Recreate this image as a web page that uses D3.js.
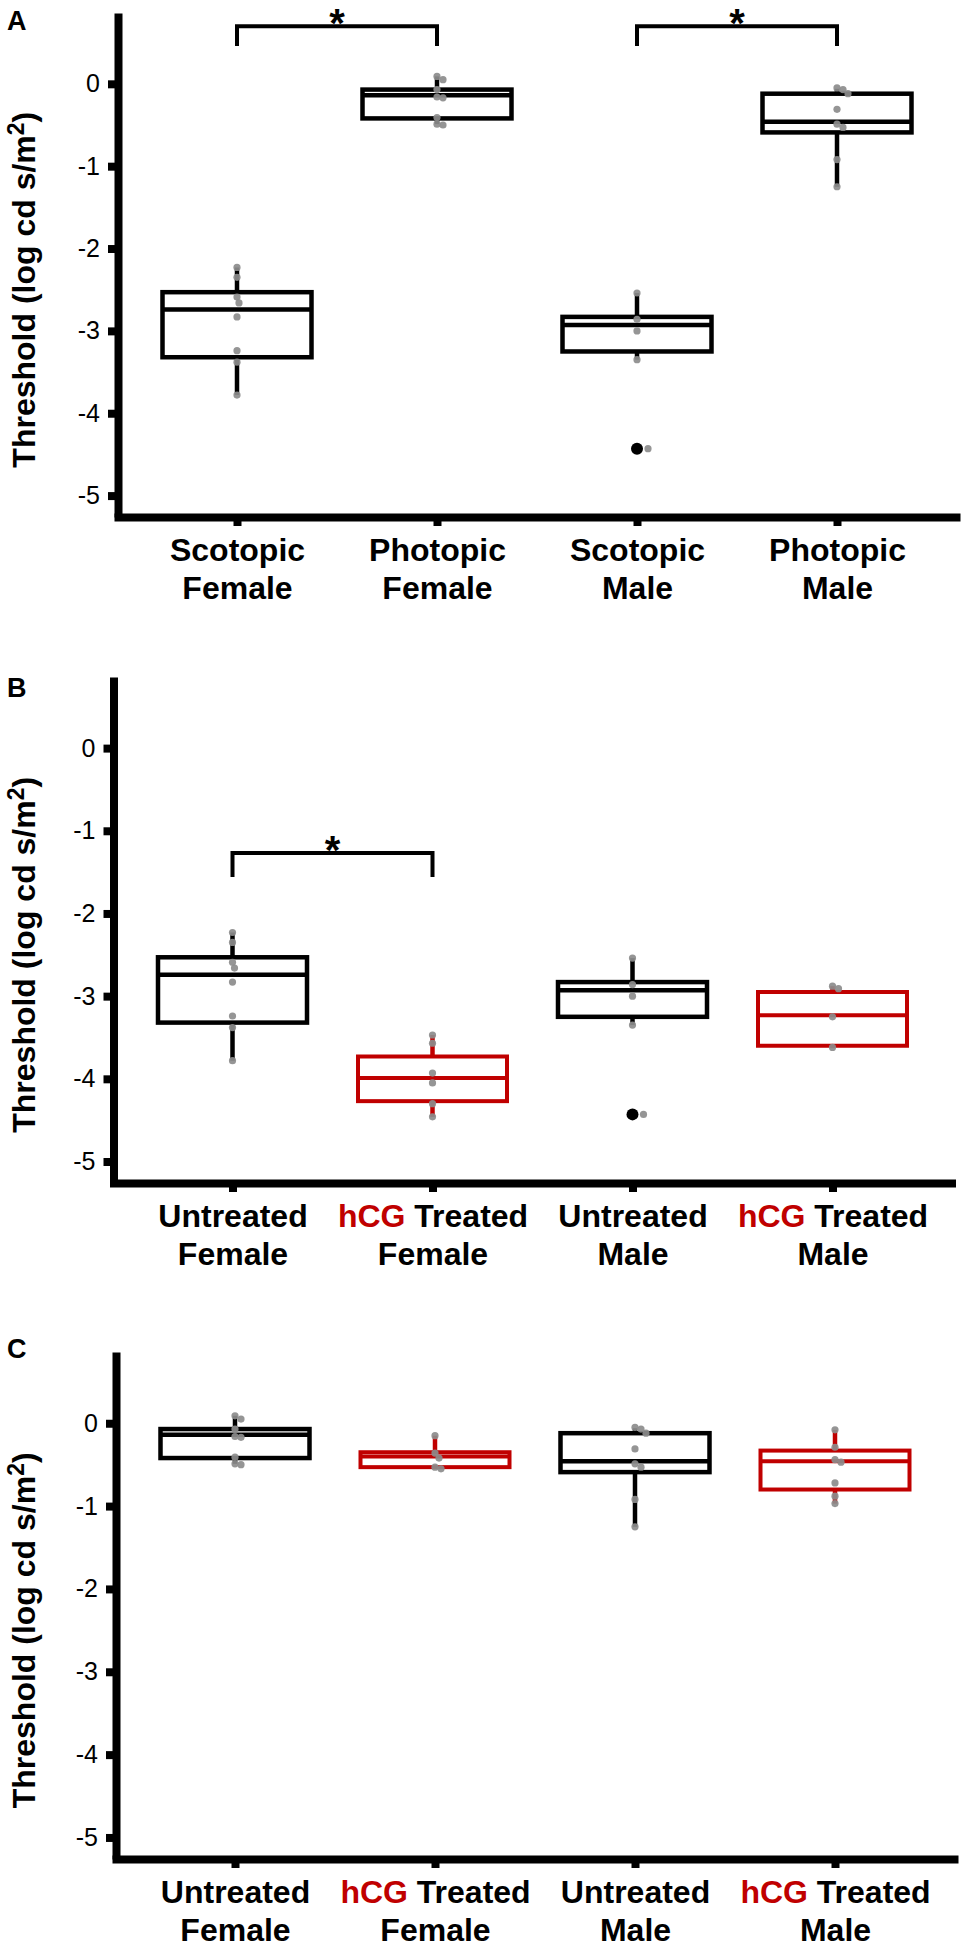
<!DOCTYPE html>
<html>
<head>
<meta charset="utf-8">
<script src="https://cdn.jsdelivr.net/npm/d3@7"></script>
<style>
body { margin: 0; background: #fff; }
svg { display: block; }
</style>
</head>
<body>
<svg id="svg"></svg>
<script>
// five-number summaries: [low whisker, q1, median, q3, high whisker]
var scotopicFemale    = [-3.78, -3.32, -2.74, -2.53, -2.23];
var scotopicFemalePts = [-2.23, -2.35, -2.59, -2.66, -2.83, -3.24, -3.38, -3.78];
var photopicFemale    = [-0.49, -0.42, -0.14, -0.07, 0.09];
var photopicFemalePts = [0.09, 0.05, -0.07, -0.16, -0.17, -0.41, -0.49, -0.50];
var scotopicMale      = [-3.35, -3.25, -2.93, -2.83, -2.54];
var scotopicMalePts   = [-2.54, -2.86, -3.00, -3.35, -4.43];
var scotopicMaleOut   = [-4.43];
var photopicMale      = [-1.25, -0.59, -0.46, -0.12, -0.06];
var photopicMalePts   = [-0.05, -0.07, -0.12, -0.31, -0.49, -0.53, -0.92, -1.25];

var hcgFemaleScot     = [-4.46, -4.27, -3.99, -3.73, -3.47];
var hcgFemaleScotPts  = [-3.47, -3.57, -3.93, -4.05, -4.30, -4.46];
var hcgMaleScot       = [-3.63, -3.60, -3.23, -2.95, -2.88];
var hcgMaleScotPts    = [-2.88, -2.91, -3.25, -3.62];

var hcgFemalePhot     = [-0.55, -0.53, -0.40, -0.35, -0.15];
var hcgFemalePhotPts  = [-0.15, -0.36, -0.42, -0.53, -0.55];
var hcgMalePhot       = [-0.97, -0.80, -0.46, -0.33, -0.08];
var hcgMalePhotPts    = [-0.08, -0.29, -0.44, -0.47, -0.72, -0.88, -0.97];

var yTicks = [0, -1, -2, -3, -4, -5];
var yDomain = [-5.26, 0.86];

var labelsA = [["Scotopic", "Female"], ["Photopic", "Female"], ["Scotopic", "Male"], ["Photopic", "Male"]];
var labelsBC = [["Untreated", "Female"], ["hCG| Treated", "Female"], ["Untreated", "Male"], ["hCG| Treated", "Male"]];
var treated = [false, true, false, true];

// brackets: [left group, right group, bar value, leg end value]
var bracketsA = [[0, 1, 0.70, 0.46], [2, 3, 0.70, 0.46]];
var bracketsB = [[0, 1, -1.27, -1.56]];

var panels = [
    { letter: "A", top: 13, bottom: 517, axisX: 118, letterY: 30, labels: labelsA, red: [false, false, false, false],
      stats: [scotopicFemale, photopicFemale, scotopicMale, photopicMale],
      pts: [scotopicFemalePts, photopicFemalePts, scotopicMalePts, photopicMalePts],
      outs: [[], [], scotopicMaleOut, []], brackets: bracketsA },
    { letter: "B", top: 677, bottom: 1183, axisX: 113.5, letterY: 697, labels: labelsBC, red: treated,
      stats: [scotopicFemale, hcgFemaleScot, scotopicMale, hcgMaleScot],
      pts: [scotopicFemalePts, hcgFemaleScotPts, scotopicMalePts, hcgMaleScotPts],
      outs: [[], [], scotopicMaleOut, []], brackets: bracketsB },
    { letter: "C", top: 1352, bottom: 1859, axisX: 116, letterY: 1358, labels: labelsBC, red: treated,
      stats: [photopicFemale, hcgFemalePhot, photopicMale, hcgMalePhot],
      pts: [photopicFemalePts, hcgFemalePhotPts, photopicMalePts, hcgMalePhotPts],
      outs: [[], [], [], []], brackets: [] }
];

//////////////////////////////////////////////////////////////////////////////

var RED = "#c00000";
var FONT = "'Liberation Sans', Arial, Helvetica, sans-serif";
var boxW = 149;
var ptR = 3.6;
var outR = 6;

var svg = d3.select("#svg").attr("width", 961).attr("height", 1943);

// push points sideways so that near-equal values do not hide each other
function dodge(vals, y, blocked)
{
    var placed = blocked.map(function(v) { return { y: y(v), dx: 0, gap: outR + ptR + 1 }; });
    return vals.map(function(v) {
        var py = y(v), dx = 0;
        var hit = function(d) {
            return placed.some(function(q) { return Math.hypot(q.dx - d, q.y - py) < q.gap; });
        };
        while (hit(dx)) dx += 1;
        placed.push({ y: py, dx: dx, gap: 6 });
        return { y: py, dx: dx };
    });
}

panels.forEach(function(p) {
    var g = svg.append("g");
    var y = d3.scaleLinear().domain(yDomain).range([p.bottom, p.top]);
    var x = d3.scalePoint().domain(d3.range(p.stats.length))
            .range([p.axisX, p.axisX + 838]).padding(0.595);

    // y axis
    var ya = g.append("g")
        .attr("transform", "translate(" + p.axisX + ",0)")
        .call(d3.axisLeft(y).tickValues(yTicks).tickSize(10).tickSizeOuter(0)
              .tickPadding(8).tickFormat(function(d) { return String(d); }));
    ya.attr("font-family", FONT).attr("font-size", 25);
    ya.select(".domain").attr("stroke", "#000").attr("stroke-width", 8);
    ya.selectAll(".tick line").attr("stroke", "#000").attr("stroke-width", 8);
    ya.selectAll(".tick text").attr("fill", "#000");

    // x axis
    var xa = g.append("g")
        .attr("transform", "translate(0," + p.bottom + ")")
        .call(d3.axisBottom(x).tickSize(9).tickSizeOuter(0).tickFormat(""));
    xa.select(".domain").attr("stroke", "#000").attr("stroke-width", 8).attr("stroke-linecap", "square");
    xa.selectAll(".tick line").attr("stroke", "#000").attr("stroke-width", 8);
    xa.selectAll(".tick text").remove();
    xa.selectAll(".tick").each(function(i) {
        var t = d3.select(this);
        var first = p.labels[i][0].split("|");
        var l1 = t.append("text").attr("y", 44);
        if (first.length > 1) {
            l1.append("tspan").attr("fill", RED).text(first[0]);
            l1.append("tspan").attr("fill", "#000").text(first[1]);
        } else {
            l1.append("tspan").attr("fill", "#000").text(first[0]);
        }
        t.append("text").attr("y", 82).attr("fill", "#000").text(p.labels[i][1]);
        t.selectAll("text").attr("text-anchor", "middle").attr("font-family", FONT)
            .attr("font-size", 32).attr("font-weight", "bold");
    });

    // y label
    var yl = g.append("text")
        .attr("transform", "translate(35," + y(-2.5) + ") rotate(-90)")
        .attr("text-anchor", "middle").attr("font-family", FONT)
        .attr("font-size", 32).attr("font-weight", "bold").attr("fill", "#000");
    yl.append("tspan").text("Threshold (log cd s/m");
    yl.append("tspan").attr("dy", -11).attr("font-size", 23).text("2");
    yl.append("tspan").attr("dy", 11).text(")");

    // panel letter
    g.append("text").attr("x", 7).attr("y", p.letterY)
        .attr("font-family", FONT).attr("font-size", 27).attr("font-weight", "bold")
        .attr("fill", "#000").text(p.letter);

    // boxes
    var groups = g.selectAll(".grp")
        .data(p.stats.map(function(s, i) { return { s: s, i: i, col: p.red[i] ? RED : "#000" }; }))
        .enter().append("g").attr("class", "grp")
        .attr("transform", function(d) { return "translate(" + x(d.i) + ",0)"; });

    groups.append("line")
        .attr("y1", function(d) { return y(d.s[0]); })
        .attr("y2", function(d) { return y(d.s[4]); })
        .attr("stroke", function(d) { return d.col; }).attr("stroke-width", 4.5);
    groups.append("rect")
        .attr("x", -boxW / 2).attr("width", boxW)
        .attr("y", function(d) { return y(d.s[3]); })
        .attr("height", function(d) { return y(d.s[1]) - y(d.s[3]); })
        .attr("fill", "#fff")
        .attr("stroke", function(d) { return d.col; })
        .attr("stroke-width", function(d) { return d.col === RED ? 4 : 4.5; });
    groups.append("line")
        .attr("x1", -boxW / 2).attr("x2", boxW / 2)
        .attr("y1", function(d) { return y(d.s[2]); })
        .attr("y2", function(d) { return y(d.s[2]); })
        .attr("stroke", function(d) { return d.col; })
        .attr("stroke-width", function(d) { return d.col === RED ? 4 : 4.5; });

    groups.each(function(d) {
        var gg = d3.select(this);
        gg.selectAll(".out").data(p.outs[d.i]).enter().append("circle")
            .attr("r", outR).attr("cy", function(v) { return y(v); }).attr("fill", "#000");
        gg.selectAll(".pt").data(dodge(p.pts[d.i], y, p.outs[d.i])).enter().append("circle")
            .attr("r", ptR).attr("cx", function(q) { return q.dx; }).attr("cy", function(q) { return q.y; })
            .attr("fill", "#8c8c8c").attr("fill-opacity", 0.92);
    });

    // significance brackets
    p.brackets.forEach(function(b) {
        var x1 = x(b[0]), x2 = x(b[1]), yt = y(b[2]), yd = y(b[3]);
        g.append("path")
            .attr("d", "M" + x1 + "," + yd + "V" + yt + "H" + x2 + "V" + yd)
            .attr("fill", "none").attr("stroke", "#000").attr("stroke-width", 4);
        g.append("text").attr("x", (x1 + x2) / 2).attr("y", yt + 10.5)
            .attr("text-anchor", "middle").attr("font-family", FONT)
            .attr("font-size", 40).attr("font-weight", "bold").attr("fill", "#000").text("*");
    });
});
</script>
</body>
</html>
